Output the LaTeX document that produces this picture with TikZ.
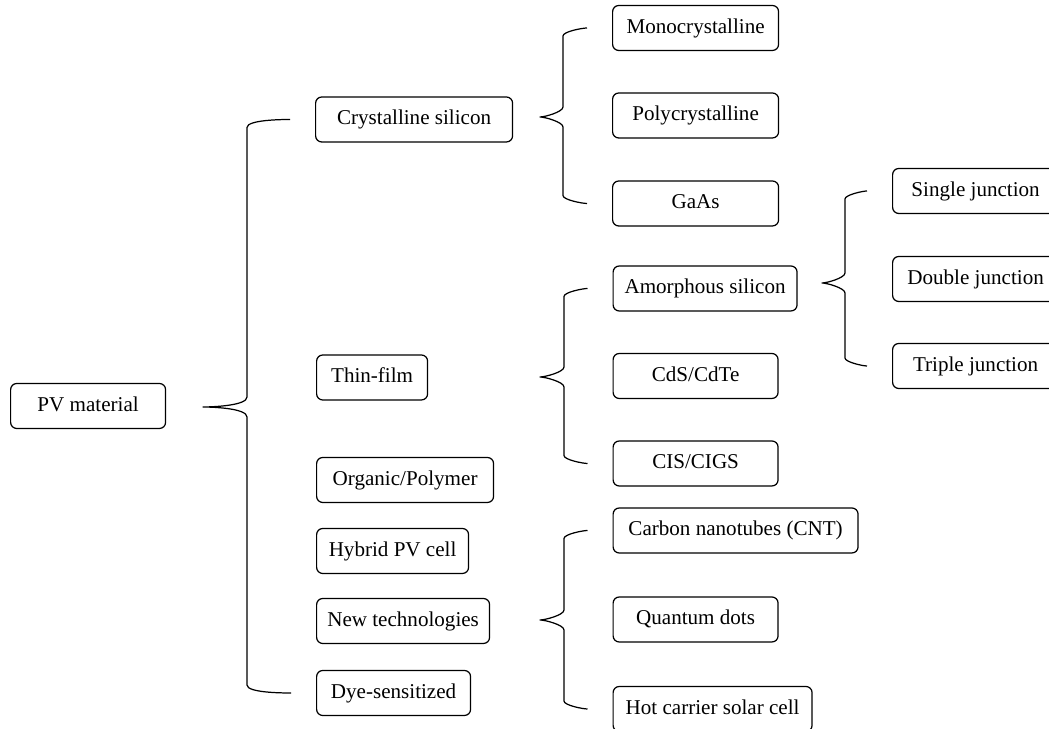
\documentclass[tikz,border=0pt]{standalone}
\usepackage{fontspec}
\setmainfont{Liberation Serif}
\usetikzlibrary{calc}

% curly bracket from a tip to the top and bottom children
\newcommand{\pvbrace}[4]{%
  \draw[brace] ($(#2.west)+(-25,0)$) to[out=180,in=90,looseness=0.45] ($(#1 |- #2.west)+(#4,-8)$)
    -- ($(#1)+(#4,10)$) to[out=-90,in=0,looseness=0.5] (#1)
    to[out=0,in=90,looseness=0.5] ($(#1)+(#4,-10)$)
    -- ($(#1 |- #3.west)+(#4,8)$) to[out=-90,in=180,looseness=0.45] ($(#3.west)+(-25,0)$);}

\begin{document}
\begin{tikzpicture}[x=0.02cm, y=0.02cm, line join=round,
    box/.style={draw, rounded corners=3.5pt, line width=0.7pt, minimum height=0.9cm,
      inner sep=0pt, text height=8.5pt, text depth=2.5pt, anchor=west,
      font=\fontsize{12}{14}\selectfont},
    brace/.style={line width=0.7pt}]
  \useasboundingbox (0,0) rectangle (1049,729);
  \clip (0,0) rectangle (1049,729);

  % Root
  \node[box, minimum width=3.1cm] (pv) at (10,323) {PV material};

  % First level
  \node[box, minimum width=3.94cm] (cry) at (315,609.5) {Crystalline silicon};
  \node[box, minimum width=2.22cm] (thin) at (316,351.5) {Thin-film};
  \node[box, minimum width=3.54cm] (org) at (316,249) {Organic/Polymer};
  \node[box, minimum width=3.04cm] (hyb) at (316,178) {Hybrid PV cell};
  \node[box, minimum width=3.46cm] (new) at (316,108) {New technologies};
  \node[box, minimum width=3.08cm] (dye) at (316,36) {Dye-sensitized};

  % Crystalline silicon
  \node[box, minimum width=3.32cm] (mono) at (612,701) {Monocrystalline};
  \node[box, minimum width=3.32cm] (poly) at (612,613.5) {Polycrystalline};
  \node[box, minimum width=3.32cm] (gaas) at (612,525.5) {GaAs};

  % Thin-film
  \node[box, minimum width=3.68cm] (amor) at (612.5,440.5) {Amorphous silicon};
  \node[box, minimum width=3.3cm] (cds) at (612.5,353) {CdS/CdTe};
  \node[box, minimum width=3.3cm] (cis) at (612.5,265.5) {CIS/CIGS};

  % Amorphous silicon
  \node[box, minimum width=3.32cm] (single) at (892,538) {Single junction};
  \node[box, minimum width=3.32cm] (double) at (892,450) {Double junction};
  \node[box, minimum width=3.32cm] (triple) at (892,363) {Triple junction};

  % New technologies
  \node[box, minimum width=4.9cm] (cnt) at (612.5,198.5) {Carbon nanotubes (CNT)};
  \node[box, minimum width=3.3cm] (qd) at (612.5,109.5) {Quantum dots};
  \node[box, minimum width=3.98cm] (hot) at (612.5,20) {Hot carrier solar cell};

  % Brackets
  \coordinate (tip1) at (203,322);
  \coordinate (tip2) at (540,612);
  \coordinate (tip3) at (540,352);
  \coordinate (tip4) at (822,446);
  \coordinate (tip5) at (540,109);
  \pvbrace{tip1}{cry}{dye}{44}
  \pvbrace{tip2}{mono}{gaas}{23}
  \pvbrace{tip3}{amor}{cis}{24}
  \pvbrace{tip4}{single}{triple}{23}
  \pvbrace{tip5}{cnt}{hot}{24}
\end{tikzpicture}
\end{document}
